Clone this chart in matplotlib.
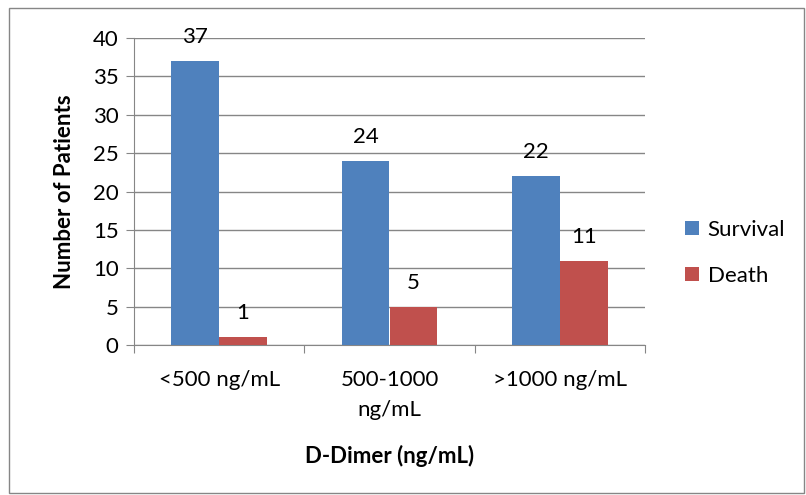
import numpy as np
import matplotlib.pyplot as plt
from matplotlib.patches import Rectangle

# D-Dimer groups vs outcome
categories = ['<500 ng/mL', '500-1000\nng/mL', '>1000 ng/mL']
survival = [37, 24, 22]
death = [1, 5, 11]

plt.rcParams['font.family'] = ['Lato', 'DejaVu Sans']
fs = 16

fig = plt.figure(figsize=(8.06, 4.95), dpi=100)
# outer chart border
fig.patches.append(Rectangle((9/806, 1-493/495), 795/806, 485/495, transform=fig.transFigure,
                             fill=False, edgecolor='#868686', linewidth=1))

ax = fig.add_axes([134/806, 1-345/495, (645-134)/806, (345-38)/495])
x = np.arange(len(categories))
w = 0.28
b1 = ax.bar(x - w/2, survival, w, color='#4F81BD', label='Survival', zorder=3)
b2 = ax.bar(x + w/2, death, w, color='#C0504D', label='Death', zorder=3)
for bars in (b1, b2):
    for r in bars:
        ax.annotate(str(int(r.get_height())), (r.get_x() + r.get_width()/2, r.get_height()),
                    xytext=(0, 10), textcoords='offset points', ha='center', va='bottom', fontsize=fs)

ax.set_xlim(-0.5, 2.5)
ax.set_ylim(0, 40)
ax.set_yticks(range(0, 41, 5))
ax.set_xticks([-0.5, 0.5, 1.5, 2.5])
ax.set_xticklabels([])
ax.set_xticks(x, minor=True)
ax.set_xticklabels(categories, minor=True, fontsize=fs, linespacing=1.6)
ax.tick_params(axis='x', which='minor', length=0, pad=18)
ax.tick_params(axis='x', which='major', length=6, color='#868686', direction='out')
ax.tick_params(axis='y', length=6, color='#868686', labelsize=fs, pad=5)
ax.grid(axis='y', color='#868686', linewidth=1, zorder=0)
for s in ['top', 'right']:
    ax.spines[s].set_visible(False)
for s in ['left', 'bottom']:
    ax.spines[s].set_color('#868686')

ax.set_ylabel('Number of Patients', fontsize=fs, fontweight='bold', labelpad=13)
ax.set_xlabel('D-Dimer (ng/mL)', fontsize=fs, fontweight='bold', labelpad=18)

ax.legend(loc='center left', bbox_to_anchor=(1.04, 0.30), frameon=False, fontsize=fs,
          handlelength=0.6, handleheight=0.6, handletextpad=0.4, labelspacing=1.2)

plt.savefig('out.png', dpi=100)
